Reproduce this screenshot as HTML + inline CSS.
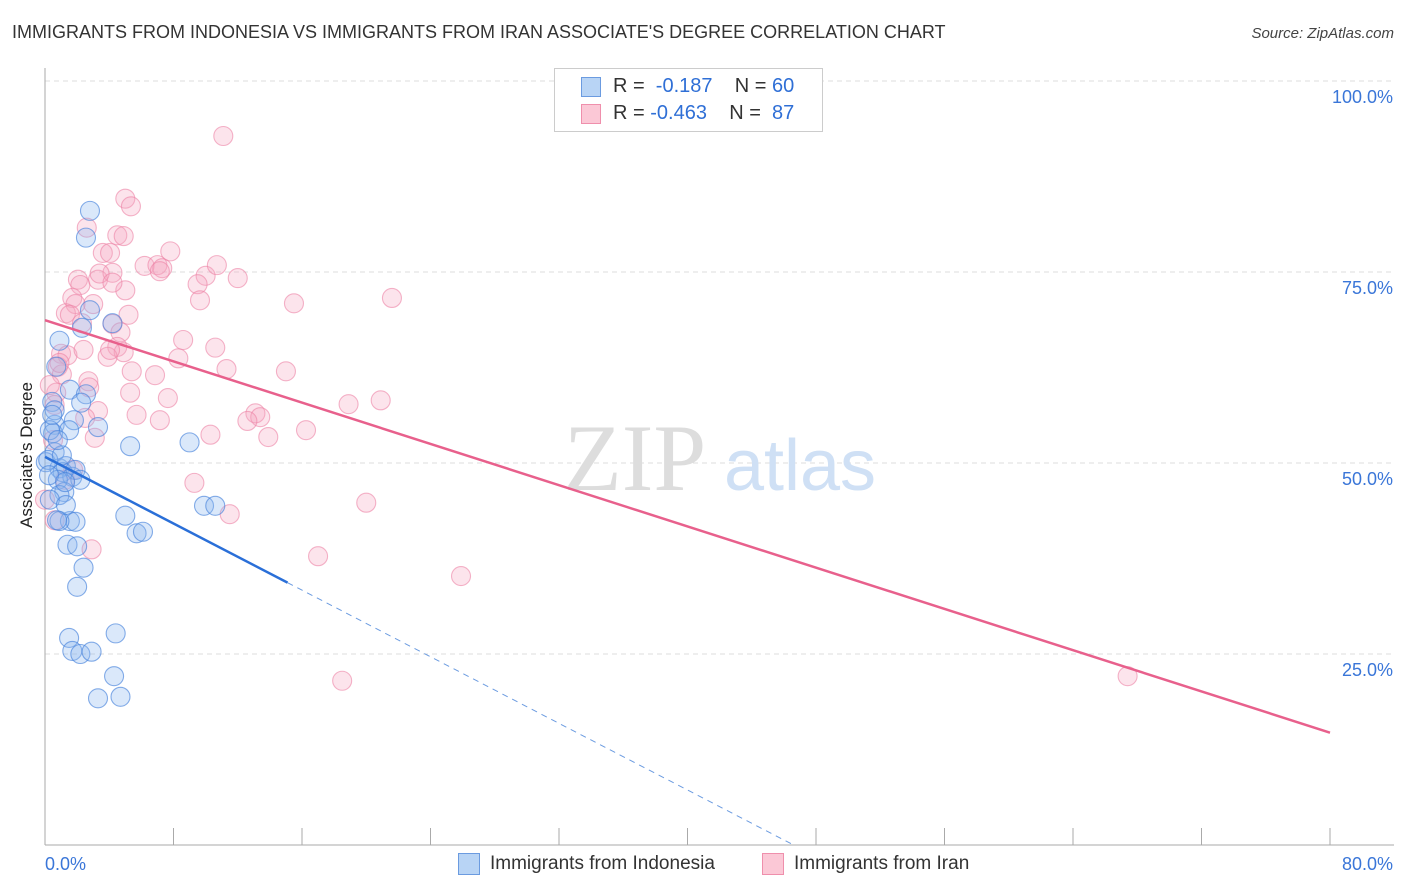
<!DOCTYPE html>
<html><head><meta charset="utf-8"><style>
body{margin:0;background:#fff;font-family:"Liberation Sans",sans-serif;}
#wrap{position:relative;width:1406px;height:892px;overflow:hidden;}
.t{position:absolute;white-space:nowrap;}
</style></head><body>
<div id="wrap">
<div class="t" style="left:12px;top:22px;font-size:18px;color:#333;">IMMIGRANTS FROM INDONESIA VS IMMIGRANTS FROM IRAN ASSOCIATE'S DEGREE CORRELATION CHART</div>
<div class="t" style="right:12px;top:25px;font-size:15px;color:#444;font-style:italic;">Source: ZipAtlas.com</div>
<div class="t" style="left:-46px;top:445px;font-size:17px;color:#222;transform:rotate(-90deg);">Associate's Degree</div>
<svg id="svg" width="1406" height="892" style="position:absolute;left:0;top:0;"></svg>
<div style="position:absolute;left:554px;top:68px;width:267px;height:62px;border:1px solid #ccc;background:#fff;">
 <div style="position:absolute;left:26px;top:8px;width:18px;height:18px;background:#b8d4f5;border:1px solid #6b9be0;"></div>
 <div class="t" style="left:58px;top:6px;font-size:20px;color:#333;">R = <span style="color:#2f6fd6">&nbsp;-0.187</span>&nbsp;&nbsp;&nbsp; N = <span style="color:#2f6fd6">60</span></div>
 <div style="position:absolute;left:26px;top:35px;width:18px;height:18px;background:#fbc8d6;border:1px solid #ef8fac;"></div>
 <div class="t" style="left:58px;top:33px;font-size:20px;color:#333;">R = <span style="color:#2f6fd6">-0.463</span>&nbsp;&nbsp;&nbsp; N = <span style="color:#2f6fd6">&nbsp;87</span></div>
</div>
<div style="position:absolute;left:458px;top:853px;">
 <div style="position:absolute;left:0;top:0;width:20px;height:20px;background:#b8d4f5;border:1px solid #6b9be0;"></div>
 <div class="t" style="left:32px;top:0;font-size:19px;color:#333;">Immigrants from Indonesia</div></div>
<div style="position:absolute;left:762px;top:853px;">
 <div style="position:absolute;left:0;top:0;width:20px;height:20px;background:#fbc8d6;border:1px solid #ef8fac;"></div>
 <div class="t" style="left:32px;top:0;font-size:19px;color:#333;">Immigrants from Iran</div></div>
</div>
<script>
const blueX=[2.8,2.55,2.8,2.3,4.2,0.9,0.7,1.55,2.55,2.25,0.45,0.6,0.5,1.8,1.5,3.3,5.3,9.0,0.6,0.05,0.9,1.3,1.1,1.7,0.8,1.2,0.9,1.55,1.9,0.9,5.0,5.7,6.1,1.4,2.0,2.4,2.0,1.5,1.7,2.2,2.9,4.4,4.3,3.3,4.7,9.9,10.6,0.3,0.2,0.6,0.3,1.05,1.9,0.8,1.3,0.25,0.45,2.2,1.25,0.75];
const blueY=[83.0,79.5,70.0,67.7,68.3,66.0,62.6,59.6,59.0,57.9,58.0,55.0,53.9,55.6,54.3,54.7,52.2,52.7,51.4,50.1,49.3,49.6,48.8,48.2,47.8,46.2,45.8,42.4,42.3,42.4,43.1,40.8,41.0,39.3,39.1,36.3,33.8,27.1,25.4,25.0,25.3,27.7,22.1,19.2,19.4,44.4,44.4,45.2,50.4,56.9,54.3,51.0,49.1,53.0,44.5,48.4,56.3,47.8,47.5,42.5];
const pinkX=[11.1,5.0,5.35,2.6,4.5,4.9,3.6,4.05,6.2,7.0,7.3,7.15,7.8,12.0,10.0,10.7,9.5,2.05,2.2,3.3,4.2,3.4,1.7,1.9,3.0,5.0,4.2,15.5,21.6,1.3,1.55,4.2,5.2,4.7,2.3,8.6,10.6,4.5,1.0,1.4,2.4,4.9,8.3,3.9,0.8,11.3,5.4,6.85,2.7,1.05,15.0,2.75,5.3,7.65,18.9,20.9,13.1,13.4,12.6,5.7,3.3,2.5,16.25,10.3,13.9,3.1,0.5,0.7,1.75,9.3,11.5,20.0,0.6,2.9,17.0,25.9,18.5,67.4,0.0,0.9,1.25,0.6,0.3,4.05,7.15,9.65];
const pinkY=[92.8,84.6,83.6,80.8,79.8,79.7,77.5,77.5,75.8,75.9,75.5,75.1,77.7,74.2,74.5,75.9,73.4,74.0,73.3,74.0,74.9,74.8,71.6,70.8,70.8,72.6,73.6,70.9,71.6,69.6,69.4,68.2,69.4,67.1,68.3,66.1,65.1,65.2,64.3,64.1,64.8,64.5,63.7,63.9,62.6,62.3,62.0,61.5,60.7,61.6,62.0,59.9,59.2,58.5,57.7,58.2,56.5,56.0,55.5,56.3,56.8,55.9,54.3,53.7,53.4,53.3,53.0,59.2,49.1,47.4,43.3,44.8,42.5,38.7,37.8,35.2,21.5,22.1,45.2,63.1,47.8,57.6,60.2,64.8,55.6,71.3];
const blueTrend=[50.8,-1.09]; // intercept, slope
const pinkTrend=[68.7,-0.675];
const yTicks=[25,50,75,100];
const xTickVals=[0,8,16,24,32,40,48,56,64,72,80];

const X0=45,X1=1330,Y0=845,Y100=81;
const sx=v=>X0+(X1-X0)*v/80;
const sy=v=>Y0-(Y0-Y100)*v/100;
const svg=document.getElementById('svg');
const NS='http://www.w3.org/2000/svg';
function mk(tag,attrs){const e=document.createElementNS(NS,tag);for(const k in attrs)e.setAttribute(k,attrs[k]);svg.appendChild(e);return e;}

yTicks.forEach(v=>{
 const g=mk('line',{x1:X0,x2:1394,y1:sy(v),y2:sy(v),stroke:'#ddd','stroke-dasharray':'5,4'});
 
 
 const t=mk('text',{x:1393,y:sy(v)+22,'text-anchor':'end','font-size':18,fill:'#3a76d8','font-family':'Liberation Sans, sans-serif'});
 t.textContent=v.toFixed(1)+'%';
 
 
});
const ax=mk('line',{x1:X0,x2:X0,y1:68,y2:Y0,stroke:'#aaa'});


const bx=mk('line',{x1:X0,x2:1394,y1:Y0,y2:Y0,stroke:'#aaa'});


xTickVals.forEach(v=>{
 const l=mk('line',{x1:sx(v),x2:sx(v),y1:828,y2:Y0,stroke:'#aaa'});
 
 
});
[[0,'0.0%','start',45],[80,'80.0%','end',1393]].forEach(a=>{
 const t=mk('text',{x:a[3],y:870,'text-anchor':a[2],'font-size':18,fill:'#3a76d8','font-family':'Liberation Sans, sans-serif'});
 t.textContent=a[1];
 
 
});
const w1=mk('text',{x:635,y:490,'text-anchor':'middle','font-size':95,fill:'#ddd','font-family':'Liberation Serif, serif'});
w1.textContent='ZIP';


const w2=mk('text',{x:800,y:490,'text-anchor':'middle','font-size':72,fill:'#cfe0f5','font-family':'Liberation Sans, sans-serif'});
w2.textContent='atlas';



pinkX.forEach((x,i)=>{
 const c=mk('circle',{cx:sx(x),cy:sy(pinkY[i]),r:9.5,fill:'rgba(246,165,192,0.3)',stroke:'rgba(236,130,165,0.6)','stroke-width':1.1});
 
 
});
blueX.forEach((x,i)=>{
 const c=mk('circle',{cx:sx(x),cy:sy(blueY[i]),r:9.5,fill:'rgba(140,182,238,0.32)',stroke:'rgba(70,130,220,0.65)','stroke-width':1.1});
 
 
});
const pl=mk('line',{x1:sx(0),y1:sy(pinkTrend[0]),x2:sx(80),y2:sy(pinkTrend[0]+pinkTrend[1]*80),stroke:'#e8608c','stroke-width':2.5});


const bEnd=15.1, bZero=-blueTrend[0]/blueTrend[1];
const bl=mk('line',{x1:sx(0),y1:sy(blueTrend[0]),x2:sx(bEnd),y2:sy(blueTrend[0]+blueTrend[1]*bEnd),stroke:'#2a6fd8','stroke-width':2.5});


const bd=mk('line',{x1:sx(bEnd),y1:sy(blueTrend[0]+blueTrend[1]*bEnd),x2:sx(bZero),y2:sy(0),stroke:'#6b9be0','stroke-width':1,'stroke-dasharray':'6,5'});


</script>
</body></html>
